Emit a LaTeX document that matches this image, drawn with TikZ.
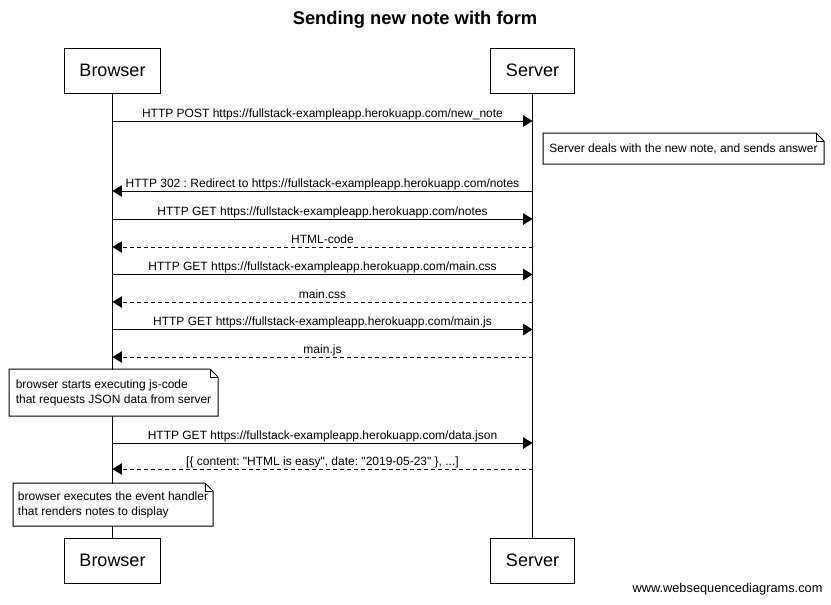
\documentclass[tikz,border=0pt]{standalone}
\usepackage{fontspec}
\setmainfont{Liberation Sans}
\usetikzlibrary{arrows.meta,calc}
\frenchspacing
\begin{document}
\begin{tikzpicture}[x=0.75pt,y=-0.75pt,line width=0.75pt,
  actor/.style={draw,fill=white,inner xsep=11.25pt,minimum height=33.75pt,font=\fontsize{13.5}{16}\selectfont},
  msg/.style={-{Triangle[length=7pt,width=8.5pt]}},
  reply/.style={msg,dash pattern=on 3pt off 2.25pt},
  lbl/.style={font=\frenchspacing\fontsize{9}{11}\selectfont,anchor=base,yshift=3pt,inner sep=0pt},
  notebox/.style={font=\fontsize{9}{11.25}\selectfont,align=left,inner xsep=0pt,inner ysep=0pt,anchor=north west},
  fold/.style={draw,line width=0.75pt}]
\useasboundingbox (0,0) rectangle (831,604);

% title
\node[font=\bfseries\fontsize{13.75}{16}\selectfont] (title) at (415,20) {Sending new note with form};

% actors
\node[actor] (bt) at (112.5,70.5) {Browser};
\node[actor] (st) at (532.5,70.5) {Server};
\node[actor] (bb) at (112.5,560.5) {Browser};
\node[actor] (sb) at (532.5,560.5) {Server};

% lifelines
\draw (bt.south) -- (bb.north);
\draw (st.south) -- (sb.north);

% message anchor points
\foreach \i/\y in {1/121,2/191,3/219,4/247,5/274.5,6/302,7/329.5,8/357,9/443,10/469}{
  \coordinate (b\i) at (112.5,\y);
  \coordinate (s\i) at (532.5,\y);
}

\draw[msg] (b1) -- node[lbl] (l1) {HTTP POST https://fullstack-exampleapp.herokuapp.com/new\_note} (s1);
\draw[msg] (s2) -- node[lbl] (l2) {HTTP 302 : Redirect to https://fullstack-exampleapp.herokuapp.com/notes} (b2);
\draw[msg] (b3) -- node[lbl] (l3) {HTTP GET https://fullstack-exampleapp.herokuapp.com/notes} (s3);
\draw[reply] (s4) -- node[lbl] (l4) {HTML-code} (b4);
\draw[msg] (b5) -- node[lbl] (l5) {HTTP GET https://fullstack-exampleapp.herokuapp.com/main.css} (s5);
\draw[reply] (s6) -- node[lbl] (l6) {main.css} (b6);
\draw[msg] (b7) -- node[lbl] (l7) {HTTP GET https://fullstack-exampleapp.herokuapp.com/main.js} (s7);
\draw[reply] (s8) -- node[lbl] (l8) {main.js} (b8);
\draw[msg] (b9) -- node[lbl] (l9) {HTTP GET https://fullstack-exampleapp.herokuapp.com/data.json} (s9);
\draw[reply] (s10) -- node[lbl] (l10) {[\{ content: \textquotedbl HTML is easy\textquotedbl, date: \textquotedbl 2019-05-23\textquotedbl\ \}, ...]} (b10);

% notes
\node[notebox,minimum width=210pt,minimum height=22.5pt] (n1) at (543,133) {Server deals with the new note, and sends answer};
\node[notebox,minimum width=156pt,minimum height=34.5pt,fill=white] (n2) at (9,369) {browser starts executing js-code\\that requests JSON data from server};
\node[notebox,minimum width=149.25pt,minimum height=31.5pt,fill=white] (n3) at (13,483) {browser executes the event handler\\that renders notes to display};

\foreach \n in {n1,n2,n3}{
  \draw[fold] (\n.north west) -- ([xshift=-6pt]\n.north east) -- ([yshift=-6pt]\n.north east) -- (\n.south east) -- (\n.south west) -- cycle;
  \draw[fold] ([xshift=-6pt]\n.north east) |- ([yshift=-6pt]\n.north east);
}

% watermark
\node[font=\fontsize{9.6}{11}\selectfont,anchor=base east,inner sep=0pt] (wm) at (823,592) {www.websequencediagrams.com};
\end{tikzpicture}
\end{document}
